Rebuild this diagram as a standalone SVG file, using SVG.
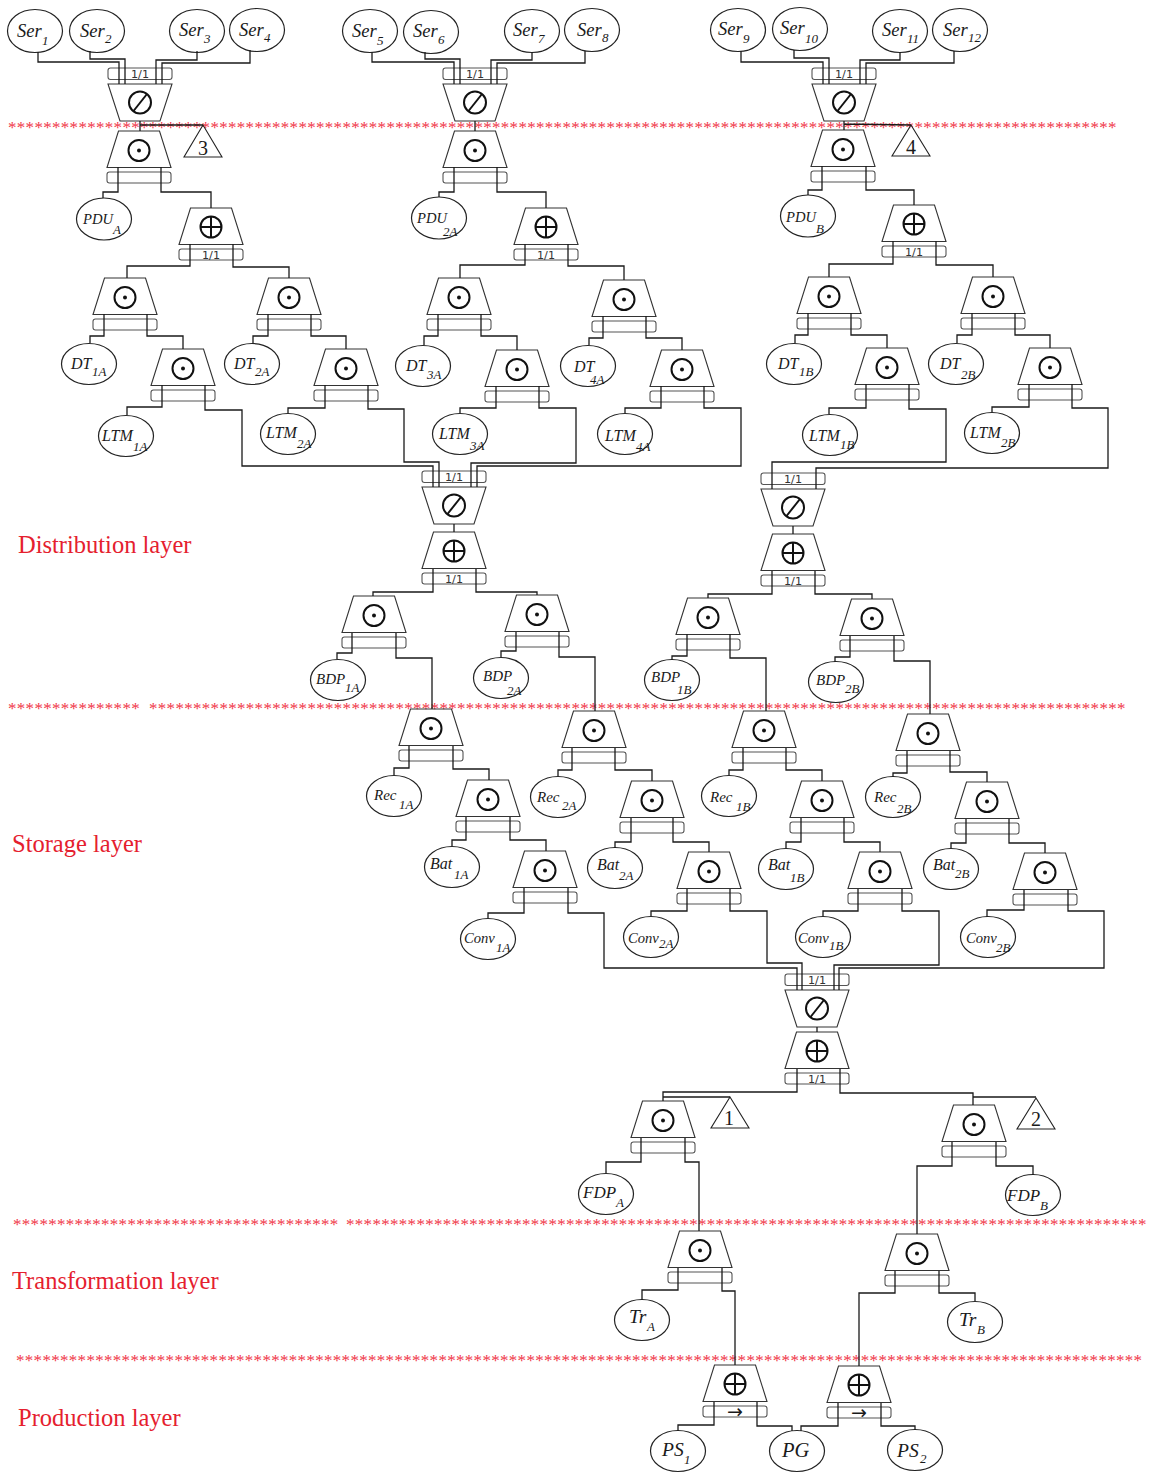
<svg xmlns="http://www.w3.org/2000/svg" width="1149" height="1474" viewBox="0 0 1149 1474">
<style>
text{font-family:"Liberation Serif","Times New Roman",serif;fill:#1a1a1a}
.t{fill:none;stroke:#333;stroke-width:1.1}
.p{fill:none;stroke:#555;stroke-width:1.1}
.o{fill:#fff;stroke:#222;stroke-width:1.2}
.y{fill:none;stroke:#111;stroke-width:2}
.d{fill:#111}
.c path{fill:none;stroke:#1a1a1a;stroke-width:1.3}
.lb{font-style:italic}
.sb{font-size:13px}
.f146{font-size:14.6px}.f153{font-size:15px}.f16{font-size:16px}.f17{font-size:17px}.f19{font-size:18.5px}.f195{font-size:19.5px}
.r{font-size:24.5px;fill:#e5202e}
.s{font-size:17px;letter-spacing:.3px;fill:#f03548}
.q{font-family:"DejaVu Sans",sans-serif;font-size:11.2px;text-anchor:middle;fill:#333}
.n{font-size:20px;text-anchor:middle}
.a{font-family:"DejaVu Sans",sans-serif;font-size:19px;text-anchor:middle}
.tri{fill:none;stroke:#222;stroke-width:1.1}
</style>
<defs>
<g id="up"><polygon class="t" points="-20.5,0 20.5,0 32,36.5 -32,36.5"/><rect class="p" x="-32" y="41" width="64" height="11" rx="2.5"/></g>
<g id="inv"><polygon class="t" points="-32,0 32,0 20,37 -20,37"/><rect class="p" x="-32" y="-16" width="64" height="11.5" rx="2.5"/><circle class="y" cx="0" cy="18.5" r="11"/><line class="y" x1="-6.5" y1="27" x2="7" y2="10"/></g>
<g id="dot"><use href="#up"/><circle class="y" cx="0" cy="19.5" r="10.5"/><circle class="d" cx="0" cy="19.5" r="2"/></g>
<g id="plus"><use href="#up"/><circle class="y" cx="0" cy="19" r="10.5"/><line class="y" x1="-10.5" y1="19" x2="10.5" y2="19"/><line class="y" x1="0" y1="8.5" x2="0" y2="29.5"/></g>
</defs>

<g id="separators">
<text class="s" x="8" y="133">******************************************************************************************************************************</text>
<text class="s" x="8" y="714">***************</text>
<text class="s" x="149" y="714">***************************************************************************************************************</text>
<text class="s" x="13" y="1230">*************************************</text>
<text class="s" x="346" y="1230">*******************************************************************************************</text>
<text class="s" x="16" y="1366">********************************************************************************************************************************</text>
</g>
<g id="layers">
<text class="r" x="18" y="553">Distribution layer</text>
<text class="r" x="12" y="852">Storage layer</text>
<text class="r" x="12" y="1289">Transformation layer</text>
<text class="r" x="18" y="1426">Production layer</text>
</g>

<g id="ser1"><ellipse class="o" cx="35" cy="31" rx="27.5" ry="21.5"/><text class="lb f19" x="17" y="37">Ser<tspan class="sb" x="42" y="45">1</tspan></text></g>
<g id="ser2"><ellipse class="o" cx="97" cy="31" rx="27.5" ry="21.5"/><text class="lb f19" x="80" y="37">Ser<tspan class="sb" x="105" y="43">2</tspan></text></g>
<g id="ser3"><ellipse class="o" cx="197" cy="31" rx="27.5" ry="21.5"/><text class="lb f19" x="179" y="36">Ser<tspan class="sb" x="204" y="43">3</tspan></text></g>
<g id="ser4"><ellipse class="o" cx="257" cy="30" rx="27.5" ry="21.5"/><text class="lb f19" x="239" y="36">Ser<tspan class="sb" x="264" y="42">4</tspan></text></g>
<g id="ser5"><ellipse class="o" cx="370" cy="31" rx="27.5" ry="21.5"/><text class="lb f19" x="352" y="37">Ser<tspan class="sb" x="377" y="45">5</tspan></text></g>
<g id="ser6"><ellipse class="o" cx="431" cy="32" rx="27.5" ry="21.5"/><text class="lb f19" x="413" y="37">Ser<tspan class="sb" x="438" y="44">6</tspan></text></g>
<g id="ser7"><ellipse class="o" cx="532" cy="31" rx="27.5" ry="21.5"/><text class="lb f19" x="513" y="36">Ser<tspan class="sb" x="538" y="43">7</tspan></text></g>
<g id="ser8"><ellipse class="o" cx="592" cy="30" rx="27.5" ry="21.5"/><text class="lb f19" x="577" y="36">Ser<tspan class="sb" x="602" y="42">8</tspan></text></g>
<g id="ser9"><ellipse class="o" cx="738" cy="30" rx="27.5" ry="21.5"/><text class="lb f19" x="718" y="35">Ser<tspan class="sb" x="743" y="43">9</tspan></text></g>
<g id="ser10"><ellipse class="o" cx="800" cy="29" rx="27.5" ry="21.5"/><text class="lb f19" x="780" y="34">Ser<tspan class="sb" x="805" y="43">10</tspan></text></g>
<g id="ser11"><ellipse class="o" cx="900" cy="31" rx="27.5" ry="21.5"/><text class="lb f19" x="882" y="36">Ser<tspan class="sb" x="907" y="43">11</tspan></text></g>
<g id="ser12"><ellipse class="o" cx="960" cy="30" rx="27.5" ry="21.5"/><text class="lb f19" x="943" y="36">Ser<tspan class="sb" x="968" y="42">12</tspan></text></g>

<g id="pduA"><ellipse class="o" cx="104" cy="219" rx="27.5" ry="21"/><text class="lb f146" x="83" y="224">PDU<tspan class="sb" x="113" y="234">A</tspan></text></g>
<g id="pdu2A"><ellipse class="o" cx="439" cy="218" rx="27.5" ry="21"/><text class="lb f146" x="417" y="223">PDU<tspan class="sb" x="443" y="236">2A</tspan></text></g>
<g id="pduB"><ellipse class="o" cx="808" cy="216" rx="27.5" ry="21"/><text class="lb f146" x="786" y="222">PDU<tspan class="sb" x="816" y="233">B</tspan></text></g>

<g id="dt1A"><ellipse class="o" cx="89" cy="364" rx="27.5" ry="20.5"/><text class="lb f16" x="71" y="369">DT<tspan class="sb" x="92" y="376">1A</tspan></text></g>
<g id="dt2A"><ellipse class="o" cx="252" cy="364" rx="27.5" ry="20.5"/><text class="lb f16" x="234" y="369">DT<tspan class="sb" x="255" y="376">2A</tspan></text></g>
<g id="dt3A"><ellipse class="o" cx="423" cy="366" rx="27.5" ry="20.5"/><text class="lb f16" x="406" y="371">DT<tspan class="sb" x="427" y="379">3A</tspan></text></g>
<g id="dt4A"><ellipse class="o" cx="588" cy="366" rx="27.5" ry="20.5"/><text class="lb f16" x="574" y="372">DT<tspan class="sb" x="590" y="384">4A</tspan></text></g>
<g id="dt1B"><ellipse class="o" cx="794" cy="364" rx="27.5" ry="20.5"/><text class="lb f16" x="778" y="369">DT<tspan class="sb" x="799" y="376">1B</tspan></text></g>
<g id="dt2B"><ellipse class="o" cx="956" cy="364" rx="27.5" ry="20.5"/><text class="lb f16" x="940" y="369">DT<tspan class="sb" x="961" y="379">2B</tspan></text></g>

<g id="ltm1A"><ellipse class="o" cx="126" cy="436" rx="27.5" ry="20.5"/><text class="lb f16" x="102" y="441">LTM<tspan class="sb" x="133" y="451">1A</tspan></text></g>
<g id="ltm2A"><ellipse class="o" cx="288" cy="434" rx="27.5" ry="20.5"/><text class="lb f16" x="266" y="438">LTM<tspan class="sb" x="297" y="448">2A</tspan></text></g>
<g id="ltm3A"><ellipse class="o" cx="460" cy="434" rx="27.5" ry="20.5"/><text class="lb f16" x="439" y="439">LTM<tspan class="sb" x="470" y="450">3A</tspan></text></g>
<g id="ltm4A"><ellipse class="o" cx="625" cy="434" rx="27.5" ry="20.5"/><text class="lb f16" x="605" y="441">LTM<tspan class="sb" x="636" y="451">4A</tspan></text></g>
<g id="ltm1B"><ellipse class="o" cx="830" cy="435" rx="27.5" ry="20.5"/><text class="lb f16" x="809" y="441">LTM<tspan class="sb" x="840" y="449">1B</tspan></text></g>
<g id="ltm2B"><ellipse class="o" cx="992" cy="433" rx="27.5" ry="20.5"/><text class="lb f16" x="970" y="438">LTM<tspan class="sb" x="1001" y="447">2B</tspan></text></g>

<g id="bdp1A"><ellipse class="o" cx="338" cy="680" rx="27.5" ry="20.5"/><text class="lb f153" x="316" y="684">BDP<tspan class="sb" x="345" y="692">1A</tspan></text></g>
<g id="bdp2A"><ellipse class="o" cx="501" cy="678" rx="27.5" ry="20.5"/><text class="lb f153" x="483" y="681">BDP<tspan class="sb" x="507" y="695">2A</tspan></text></g>
<g id="bdp1B"><ellipse class="o" cx="672" cy="680" rx="27.5" ry="20.5"/><text class="lb f153" x="651" y="682">BDP<tspan class="sb" x="677" y="694">1B</tspan></text></g>
<g id="bdp2B"><ellipse class="o" cx="836" cy="682" rx="27.5" ry="20.5"/><text class="lb f153" x="816" y="685">BDP<tspan class="sb" x="845" y="693">2B</tspan></text></g>

<g id="rec1A"><ellipse class="o" cx="394" cy="796" rx="27.5" ry="20.5"/><text class="lb f153" x="374" y="800">Rec<tspan class="sb" x="399" y="809">1A</tspan></text></g>
<g id="rec2A"><ellipse class="o" cx="558" cy="797" rx="27.5" ry="20.5"/><text class="lb f153" x="537" y="802">Rec<tspan class="sb" x="562" y="810">2A</tspan></text></g>
<g id="rec1B"><ellipse class="o" cx="729" cy="796" rx="27.5" ry="20.5"/><text class="lb f153" x="710" y="802">Rec<tspan class="sb" x="736" y="811">1B</tspan></text></g>
<g id="rec2B"><ellipse class="o" cx="893" cy="797" rx="27.5" ry="20.5"/><text class="lb f153" x="874" y="802">Rec<tspan class="sb" x="897" y="813">2B</tspan></text></g>

<g id="bat1A"><ellipse class="o" cx="452" cy="867" rx="27.5" ry="20.5"/><text class="lb f16" x="430" y="869">Bat<tspan class="sb" x="454" y="879">1A</tspan></text></g>
<g id="bat2A"><ellipse class="o" cx="615" cy="868" rx="27.5" ry="20.5"/><text class="lb f16" x="597" y="870">Bat<tspan class="sb" x="619" y="880">2A</tspan></text></g>
<g id="bat1B"><ellipse class="o" cx="786" cy="869" rx="27.5" ry="20.5"/><text class="lb f16" x="768" y="870">Bat<tspan class="sb" x="790" y="882">1B</tspan></text></g>
<g id="bat2B"><ellipse class="o" cx="951" cy="869" rx="27.5" ry="20.5"/><text class="lb f16" x="933" y="870">Bat<tspan class="sb" x="955" y="878">2B</tspan></text></g>

<g id="conv1A"><ellipse class="o" cx="488" cy="939" rx="27.5" ry="20.5"/><text class="lb f146" x="464" y="943">Conv<tspan class="sb" x="496" y="952">1A</tspan></text></g>
<g id="conv2A"><ellipse class="o" cx="651" cy="937" rx="27.5" ry="20.5"/><text class="lb f146" x="628" y="943">Conv<tspan class="sb" x="659" y="948">2A</tspan></text></g>
<g id="conv1B"><ellipse class="o" cx="823" cy="937" rx="27.5" ry="20.5"/><text class="lb f146" x="798" y="943">Conv<tspan class="sb" x="829" y="950">1B</tspan></text></g>
<g id="conv2B"><ellipse class="o" cx="988" cy="937" rx="27.5" ry="20.5"/><text class="lb f146" x="966" y="943">Conv<tspan class="sb" x="996" y="952">2B</tspan></text></g>

<g id="fdpA"><ellipse class="o" cx="606" cy="1194" rx="27.5" ry="20.5"/><text class="lb f17" x="583" y="1198">FDP<tspan class="sb" x="616" y="1207">A</tspan></text></g>
<g id="fdpB"><ellipse class="o" cx="1033" cy="1195" rx="27.5" ry="20.5"/><text class="lb f17" x="1007" y="1201">FDP<tspan class="sb" x="1040" y="1210">B</tspan></text></g>
<g id="trA"><ellipse class="o" cx="642" cy="1320" rx="27.5" ry="20.5"/><text class="lb f195" x="629" y="1323">Tr<tspan class="sb" x="647" y="1331">A</tspan></text></g>
<g id="trB"><ellipse class="o" cx="975" cy="1322" rx="27.5" ry="20.5"/><text class="lb f195" x="959" y="1326">Tr<tspan class="sb" x="977" y="1334">B</tspan></text></g>
<g id="ps1"><ellipse class="o" cx="678" cy="1451" rx="27.5" ry="20.5"/><text class="lb f195" x="662" y="1456">PS<tspan class="sb" x="684" y="1464">1</tspan></text></g>
<g id="pg"><ellipse class="o" cx="797" cy="1451" rx="27.5" ry="20.5"/><text class="lb" font-size="20.5" x="782" y="1457">PG</text></g>
<g id="ps2"><ellipse class="o" cx="915" cy="1450" rx="27.5" ry="20.5"/><text class="lb f195" x="897" y="1457">PS<tspan class="sb" x="920" y="1463">2</tspan></text></g>

<g id="splitA" transform="translate(140,84)"><use href="#inv"/><text class="q" y="-6">1/1</text></g>
<g id="splitB" transform="translate(475,84)"><use href="#inv"/><text class="q" y="-6">1/1</text></g>
<g id="splitC" transform="translate(844,84)"><use href="#inv"/><text class="q" y="-6">1/1</text></g>
<g id="splitD" transform="translate(454,487)"><use href="#inv"/><text class="q" y="-6">1/1</text></g>
<g id="splitE" transform="translate(793,489)"><use href="#inv"/><text class="q" y="-6">1/1</text></g>
<g id="splitF" transform="translate(817,990)"><use href="#inv"/><text class="q" y="-6">1/1</text></g>

<g id="d1" transform="translate(139,131)"><use href="#dot"/></g>
<g id="d2" transform="translate(475,131)"><use href="#dot"/></g>
<g id="d3" transform="translate(843,130)"><use href="#dot"/></g>

<g id="p1" transform="translate(211,208)"><use href="#plus"/><text class="q" y="51">1/1</text></g>
<g id="p2" transform="translate(546,208)"><use href="#plus"/><text class="q" y="51">1/1</text></g>
<g id="p3" transform="translate(914,205)"><use href="#plus"/><text class="q" y="51">1/1</text></g>
<g id="p4" transform="translate(454,532)"><use href="#plus"/><text class="q" y="51">1/1</text></g>
<g id="p5" transform="translate(793,534)"><use href="#plus"/><text class="q" y="51">1/1</text></g>
<g id="p6" transform="translate(817,1032)"><use href="#plus"/><text class="q" y="51">1/1</text></g>
<g id="p7" transform="translate(735,1365)"><use href="#plus"/><text class="a" y="53">→</text></g>
<g id="p8" transform="translate(859,1366)"><use href="#plus"/><text class="a" y="53">→</text></g>

<g id="d4" transform="translate(125,278)"><use href="#dot"/></g>
<g id="d5" transform="translate(289,278)"><use href="#dot"/></g>
<g id="d6" transform="translate(459,278)"><use href="#dot"/></g>
<g id="d7" transform="translate(624,280)"><use href="#dot"/></g>
<g id="d8" transform="translate(829,277)"><use href="#dot"/></g>
<g id="d9" transform="translate(993,277)"><use href="#dot"/></g>
<g id="d10" transform="translate(183,349)"><use href="#dot"/></g>
<g id="d11" transform="translate(346,349)"><use href="#dot"/></g>
<g id="d12" transform="translate(517,350)"><use href="#dot"/></g>
<g id="d13" transform="translate(682,350)"><use href="#dot"/></g>
<g id="d14" transform="translate(887,348)"><use href="#dot"/></g>
<g id="d15" transform="translate(1050,348)"><use href="#dot"/></g>
<g id="d16" transform="translate(374,596)"><use href="#dot"/></g>
<g id="d17" transform="translate(537,595)"><use href="#dot"/></g>
<g id="d18" transform="translate(708,598)"><use href="#dot"/></g>
<g id="d19" transform="translate(872,599)"><use href="#dot"/></g>
<g id="d20" transform="translate(431,709)"><use href="#dot"/></g>
<g id="d21" transform="translate(594,711)"><use href="#dot"/></g>
<g id="d22" transform="translate(764,711)"><use href="#dot"/></g>
<g id="d23" transform="translate(928,714)"><use href="#dot"/></g>
<g id="d24" transform="translate(488,780)"><use href="#dot"/></g>
<g id="d25" transform="translate(652,781)"><use href="#dot"/></g>
<g id="d26" transform="translate(822,781)"><use href="#dot"/></g>
<g id="d27" transform="translate(987,782)"><use href="#dot"/></g>
<g id="d28" transform="translate(545,851)"><use href="#dot"/></g>
<g id="d29" transform="translate(709,852)"><use href="#dot"/></g>
<g id="d30" transform="translate(880,852)"><use href="#dot"/></g>
<g id="d31" transform="translate(1045,853)"><use href="#dot"/></g>
<g id="d32" transform="translate(663,1101)"><use href="#dot"/></g>
<g id="d33" transform="translate(974,1105)"><use href="#dot"/></g>
<g id="d34" transform="translate(700,1231)"><use href="#dot"/></g>
<g id="d35" transform="translate(917,1234)"><use href="#dot"/></g>

<g id="tri3"><polygon class="tri" points="203,125 184,157 222,157"/><text class="n" x="203" y="155">3</text></g>
<g id="tri4"><polygon class="tri" points="911,125 892,156 930,156"/><text class="n" x="911" y="154">4</text></g>
<g id="tri1"><polygon class="tri" points="730,1097 711,1128 749,1128"/><text class="n" x="729" y="1125">1</text></g>
<g id="tri2"><polygon class="tri" points="1036,1098 1017,1129 1055,1129"/><text class="n" x="1036" y="1126">2</text></g>

<g id="connectors" class="c">
<path d="M38 52V62H119V84M90 51V59H125V84M197 51V60H156V84M250 50V63H162V84"/>
<path d="M140 121V131M140 125H203M118 167V192H103V198M161 167V192H211V208M190 244V266H127V278M233 244V267H289V278"/>
<path d="M104 314V336H90V343M147 314V336H183V349M268 314V336H253V343M311 314V336H346V349"/>
<path d="M162 385V407H127V415M205 385V410H242V466H433V487M325 385V408H288V413M368 385V409H404V462H439V487"/>
<path d="M372 52V62H454V84M425 52V59H460V84M532 52V60H491V84M585 51V63H497V84"/>
<path d="M475 121V131M454 167V192H439V197M497 167V192H546V208M525 244V265H460V278M568 244V266H624V280"/>
<path d="M438 314V336H424V345M481 314V336H517V350M603 316V338H589V345M646 316V338H682V350"/>
<path d="M496 386V408H460V413M539 386V408H576V463H471V487M661 386V408H625V413M704 386V408H741V466H477V487"/>
<path d="M741 51V62H823V84M794 50V58H829V84M900 52V60H860V84M954 51V63H866V84"/>
<path d="M844 121V130M844 124L911 125M822 166V190H808V195M866 166V190H914V205M893 241V264H829V277M936 241V265H993V277"/>
<path d="M808 313V335H795V343M851 313V335H887V348M972 313V335H957V343M1015 313V335H1050V348"/>
<path d="M866 384V408H829V414M909 384V409H946V462H772V489M1029 384V407H992V412M1072 384V408H1108V468H816V489"/>
<path d="M454 524V532M793 526V534M433 569V592H373V596M476 569V592H537V595M772 571V594H708V598M815 571V594H872V599"/>
<path d="M352 633V653H337V659M396 633V658H432V709M516 632V651H501V657M559 632V657H595V711M687 634V656H672V660M730 634V658H766V711M850 636V657H835V662M894 636V661H930V714"/>
<path d="M409 746V768H394V775M453 746V769H489V780M572 748V770H558V776M615 748V770H652V781M743 748V770H729V775M786 748V770H822V781M907 751V773H893V777M950 751V772H987V782"/>
<path d="M466 817V840H452V846M510 817V840H546V851M631 818V842H615V848M673 818V842H709V852M801 818V842H786V848M844 818V842H880V852M966 819V843H951V848M1009 819V843H1045V853"/>
<path d="M524 888V913H488V918M568 888V913H604V968H797V990M687 889V911H651V916M730 889V911H767V963H802V990M858 889V911H823V916M902 889V911H939V965H834V990M1024 890V910H987V917M1068 890V911H1104V968H839V990"/>
<path d="M817 1027V1032M797 1069V1092H663V1101M663 1097H730M840 1069V1093H973V1105M973 1097H1036"/>
<path d="M641 1138V1162H606V1173M685 1138V1162H699V1231M952 1142V1166H917V1234M996 1142V1166H1033V1175"/>
<path d="M678 1268V1290H642V1300M722 1268V1291H735V1365M895 1271V1293H859V1366M939 1271V1293H975V1301"/>
<path d="M714 1402V1425H678V1431M757 1402V1426H792V1431M838 1403V1426H801V1431M881 1403V1426H915V1430"/>
</g>
</svg>
